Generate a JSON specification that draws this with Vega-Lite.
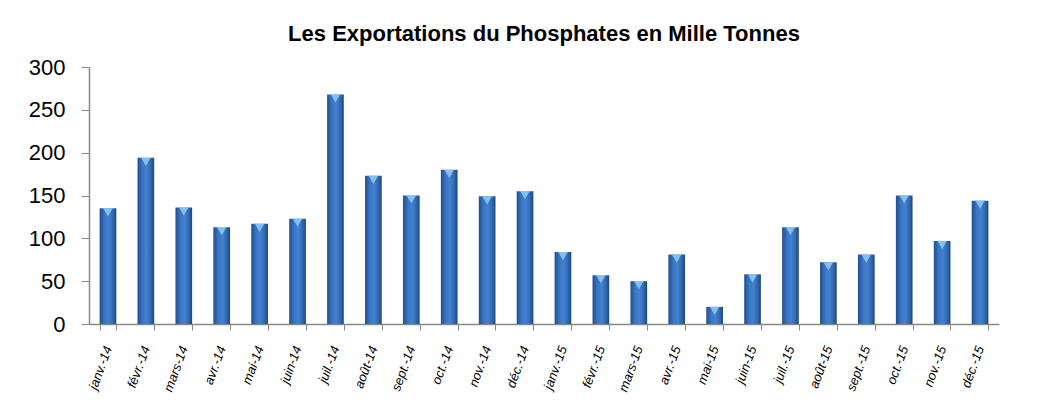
{
  "$schema": "https://vega.github.io/schema/vega-lite/v6.json",
  "width": 910,
  "height": 257,
  "autosize": "none",
  "padding": {"left": 89, "top": 67, "right": 61, "bottom": 86},
  "background": "white",
  "title": {
    "text": "Les Exportations du Phosphates en Mille Tonnes",
    "font": "Liberation Sans",
    "fontSize": 22,
    "fontWeight": "bold",
    "color": "black",
    "anchor": "middle",
    "offset": 10
  },
  "data": {
    "values": [
      {"mois": "janv.-14", "valeur": 135},
      {"mois": "févr.-14", "valeur": 194},
      {"mois": "mars-14", "valeur": 136},
      {"mois": "avr.-14", "valeur": 113},
      {"mois": "mai-14", "valeur": 117},
      {"mois": "juin-14", "valeur": 123},
      {"mois": "juil.-14", "valeur": 268},
      {"mois": "août-14", "valeur": 173},
      {"mois": "sept.-14", "valeur": 150},
      {"mois": "oct.-14", "valeur": 180},
      {"mois": "nov.-14", "valeur": 149},
      {"mois": "déc.-14", "valeur": 155},
      {"mois": "janv.-15", "valeur": 84},
      {"mois": "févr.-15", "valeur": 57},
      {"mois": "mars-15", "valeur": 50},
      {"mois": "avr.-15", "valeur": 81},
      {"mois": "mai-15", "valeur": 20},
      {"mois": "juin-15", "valeur": 58},
      {"mois": "juil.-15", "valeur": 113},
      {"mois": "août-15", "valeur": 72},
      {"mois": "sept.-15", "valeur": 81},
      {"mois": "oct.-15", "valeur": 150},
      {"mois": "nov.-15", "valeur": 97},
      {"mois": "déc.-15", "valeur": 144}
    ]
  },
  "encoding": {
    "x": {
      "field": "mois",
      "type": "nominal",
      "sort": null,
      "scale": {"paddingInner": 0.56, "paddingOuter": 0.28},
      "axis": {
        "title": null,
        "tickBand": "extent",
        "labelAngle": -70,
        "labelFont": "Liberation Sans",
        "labelFontStyle": "italic",
        "labelFontSize": 13,
        "labelColor": "black",
        "labelPadding": 16,
        "domainColor": "#888888",
        "tickColor": "#888888",
        "tickSize": 6,
        "domainWidth": 1.5,
        "labelOverlap": false
      }
    },
    "y": {
      "field": "valeur",
      "type": "quantitative",
      "scale": {"domain": [0, 300]},
      "axis": {
        "title": null,
        "values": [0, 50, 100, 150, 200, 250, 300],
        "grid": false,
        "labelFont": "Liberation Sans",
        "labelFontSize": 22,
        "labelColor": "black",
        "labelPadding": 16,
        "tickSize": 8,
        "domainColor": "#888888",
        "tickColor": "#888888",
        "domainWidth": 1.5
      }
    }
  },
  "layer": [
    {
      "mark": {
        "type": "bar",
        "color": {
          "gradient": "linear",
          "x1": 0, "x2": 1, "y1": 0, "y2": 0,
          "stops": [
            {"offset": 0, "color": "#1f4f8f"},
            {"offset": 0.3, "color": "#3a76c4"},
            {"offset": 0.55, "color": "#4282d0"},
            {"offset": 0.8, "color": "#3268b0"},
            {"offset": 1, "color": "#1c467f"}
          ]
        }
      }
    },
    {
      "mark": {"type": "point", "shape": "triangle-down", "filled": true, "color": "#8cc6f4", "size": 90, "yOffset": 4, "opacity": 0.9}
    }
  ],
  "config": {"view": {"stroke": null}}
}
